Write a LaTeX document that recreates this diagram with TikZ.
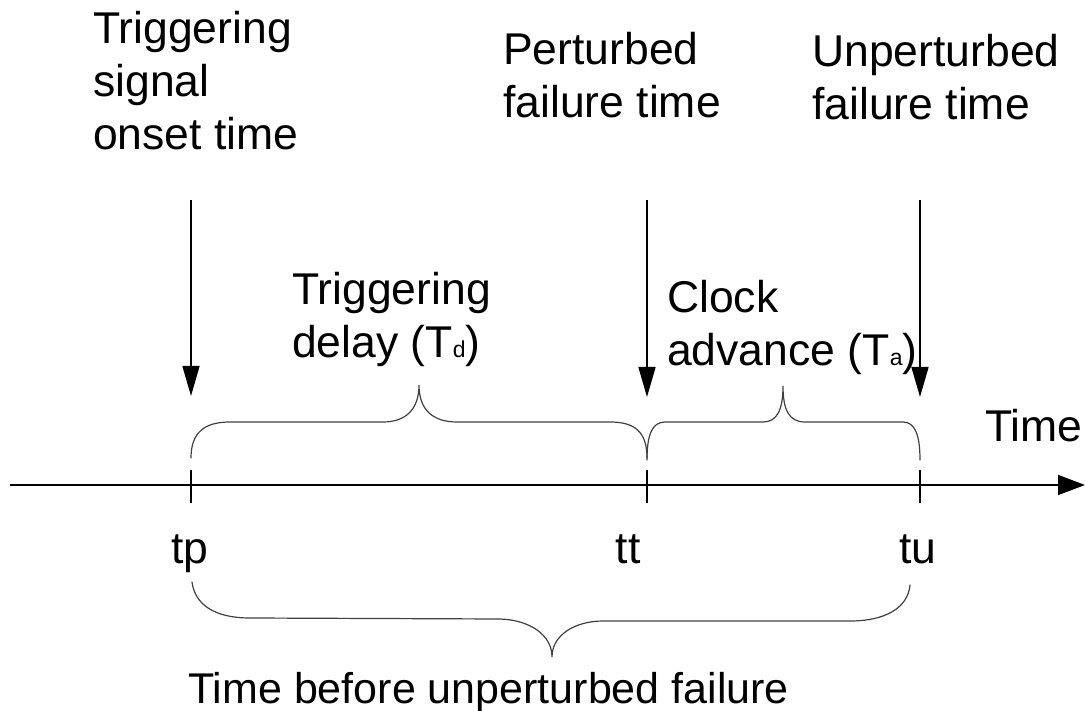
\documentclass[tikz,border=0pt]{standalone}
\usepackage{fontspec}
\setmainfont{Liberation Sans}
\usetikzlibrary{arrows.meta}
\tikzset{
  lbl/.style={inner sep=0pt, anchor=base west, align=left, font=\fontsize{44.5}{53}\selectfont},
  tick/.style={inner sep=0pt, anchor=base, font=\fontsize{44.5}{53}\selectfont},
  arr/.style={line width=1.5pt, -{Triangle[length=30pt,width=17pt]}},
  axis/.style={line width=1.5pt, -{Triangle[length=27pt,width=20pt]}},
  tickline/.style={line width=1.5pt},
  brace/.style={line width=1.2pt, black!75, line cap=round}
}
\newcommand{\sbs}[1]{{\fontsize{23}{23}\selectfont #1}}
\begin{document}
\begin{tikzpicture}[x=1pt,y=-1pt]
\useasboundingbox (0,0) rectangle (1085,711);
% axis
\coordinate (ax0) at (10,485);
\coordinate (ax1) at (1085,485);
\draw[axis] (ax0) -- (ax1);
% ticks
\coordinate (tpT) at (191,470); \coordinate (tpB) at (191,503);
\coordinate (ttT) at (647,470); \coordinate (ttB) at (647,503);
\coordinate (tuT) at (920,470); \coordinate (tuB) at (920,503);
\draw[tickline] (tpT) -- (tpB);
\draw[tickline] (ttT) -- (ttB);
\draw[tickline] (tuT) -- (tuB);
% vertical arrows
\coordinate (a1s) at (191,200); \coordinate (a1e) at (191,396);
\coordinate (a2s) at (647,200); \coordinate (a2e) at (647,397);
\coordinate (a3s) at (920,200); \coordinate (a3e) at (920,397);
\draw[arr] (a1s) -- (a1e);
\draw[arr] (a2s) -- (a2e);
\draw[arr] (a3s) -- (a3e);
% braces
\draw[brace] (191,458) .. controls (191,432) and (205,422) .. (230,422) -- (383,422)
  .. controls (405,422) and (419,410) .. (419,385)
  .. controls (419,410) and (433,422) .. (457,422) -- (610,422)
  .. controls (635,422) and (647,432) .. (647,458);
\draw[brace] (647,460) .. controls (647,435) and (652,422) .. (665,422) -- (763,422)
  .. controls (777,422) and (783,410) .. (783,386)
  .. controls (783,410) and (789,422) .. (805,422) -- (903,422)
  .. controls (915,422) and (920,435) .. (920,460);
\draw[brace] (192,582) .. controls (195,605) and (215,618) .. (250,618) -- (500,619)
  .. controls (530,620) and (552,635) .. (552,657)
  .. controls (552,635) and (575,621) .. (603,621) -- (850,621)
  .. controls (885,621) and (908,608) .. (910,585);
% labels (base anchor = baseline of last line)
\node[lbl] (onset) at (93,150) {Triggering\\signal\\onset time};
\node[lbl] (pert) at (503,118) {Perturbed\\failure time};
\node[lbl] (unpert) at (812,120) {Unperturbed\\failure time};
\node[lbl] (td) at (292,358) {Triggering\\delay (T\sbs{d})};
\node[lbl] (ta) at (667,366) {Clock\\advance (T\sbs{a})};
\node[lbl] (time) at (985,442) {Time};
\node[tick] (tp) at (190,563) {tp};
\node[tick] (tt) at (628,563) {tt};
\node[tick] (tu) at (918,563) {tu};
\node[lbl, font=\fontsize{43}{50}\selectfont] (tbuf) at (188,703) {Time before unperturbed failure};
\end{tikzpicture}
\end{document}
